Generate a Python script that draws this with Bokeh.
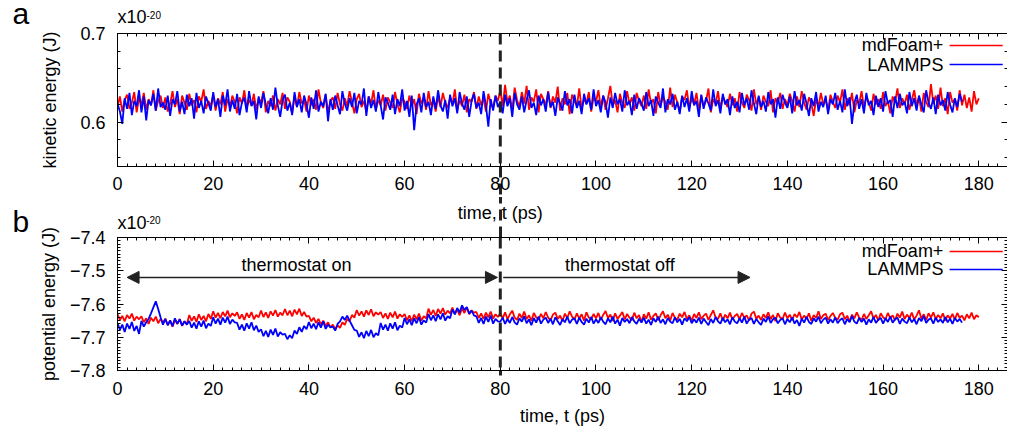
from bokeh.plotting import figure
from bokeh.models import Range1d, FixedTicker, Label, Arrow, NormalHead, LinearAxis, Span
from bokeh.layouts import column
from bokeh.embed import file_html
from bokeh.resources import INLINE

FONT = "Liberation Sans"
dt = 0.5            # sampling interval of the series (ps)
switch_time = 80.0  # thermostat switched off (ps)

# kinetic energy, x1e-20 J
ke_mdfoam = [
 0.618,0.629,0.612,0.625,0.631,0.615,0.622,0.634,0.611,0.627,0.620,0.633,0.614,0.626,0.619,0.636,0.613,0.624,0.630,0.616,
 0.628,0.612,0.621,0.635,0.617,0.626,0.609,0.630,0.622,0.614,0.632,0.619,0.625,0.611,0.629,0.623,0.637,0.615,0.624,0.618,
 0.631,0.613,0.627,0.620,0.634,0.612,0.626,0.617,0.630,0.623,0.610,0.628,0.621,0.636,0.616,0.625,0.619,0.632,0.614,0.627,
 0.622,0.635,0.611,0.624,0.618,0.630,0.613,0.626,0.620,0.633,0.615,0.628,0.623,0.610,0.629,0.617,0.634,0.621,0.625,0.612,
 0.630,0.619,0.626,0.614,0.637,0.622,0.616,0.631,0.611,0.624,0.628,0.615,0.633,0.620,0.613,0.627,0.618,0.635,0.623,0.610,
 0.626,0.632,0.617,0.624,0.612,0.629,0.621,0.636,0.614,0.625,0.619,0.631,0.613,0.628,0.622,0.616,0.634,0.620,0.611,0.627,
 0.623,0.615,0.630,0.618,0.626,0.609,0.632,0.621,0.627,0.614,0.635,0.619,0.624,0.612,0.629,0.617,0.633,0.622,0.616,0.628,
 0.620,0.637,0.613,0.625,0.618,0.631,0.611,0.626,0.623,0.634,0.615,0.629,0.619,0.627,0.612,0.632,0.621,0.616,0.630,0.624,
 0.636,0.618,0.642,0.622,0.630,0.613,0.639,0.625,0.617,0.634,0.621,0.641,0.614,0.628,0.623,0.637,0.611,0.632,0.626,0.619,
 0.635,0.616,0.629,0.622,0.640,0.613,0.627,0.620,0.633,0.609,0.631,0.624,0.618,0.638,0.615,0.626,0.621,0.634,0.612,0.628,
 0.623,0.636,0.617,0.630,0.614,0.627,0.641,0.619,0.625,0.611,0.632,0.622,0.616,0.635,0.620,0.628,0.613,0.633,0.624,0.618,
 0.630,0.615,0.637,0.621,0.626,0.610,0.634,0.619,0.628,0.623,0.614,0.639,0.617,0.631,0.622,0.612,0.629,0.625,0.636,0.616,
 0.627,0.620,0.633,0.613,0.630,0.618,0.624,0.638,0.611,0.626,0.621,0.635,0.615,0.629,0.623,0.617,0.632,0.619,0.627,0.612,
 0.634,0.622,0.616,0.631,0.625,0.613,0.637,0.620,0.628,0.614,0.630,0.623,0.618,0.636,0.611,0.627,0.621,0.633,0.615,0.626,
 0.619,0.632,0.624,0.612,0.629,0.617,0.635,0.622,0.614,0.628,0.621,0.607,0.626,0.618,0.633,0.620,0.625,0.613,0.631,0.623,
 0.616,0.630,0.622,0.637,0.614,0.627,0.619,0.633,0.611,0.625,0.621,0.635,0.617,0.628,0.623,0.613,0.632,0.620,0.626,0.615,
 0.634,0.618,0.624,0.610,0.629,0.622,0.638,0.616,0.627,0.620,0.631,0.614,0.625,0.636,0.619,0.628,0.612,0.633,0.623,0.617,
 0.643,0.621,0.630,0.615,0.639,0.618,0.627,0.609,0.634,0.622,0.626,0.613,0.636,0.619,0.631,0.616,0.628,0.612,0.635,0.620,
 0.627]

ke_lammps = [
 0.621,0.612,0.598,0.627,0.615,0.633,0.608,0.624,0.618,0.636,0.611,0.629,0.602,0.625,0.619,0.632,0.613,0.638,0.617,0.622,
 0.614,0.630,0.607,0.626,0.620,0.635,0.612,0.623,0.609,0.631,0.618,0.627,0.604,0.633,0.616,0.624,0.610,0.629,0.621,0.613,
 0.634,0.617,0.626,0.606,0.630,0.619,0.637,0.612,0.625,0.615,0.632,0.608,0.622,0.628,0.611,0.635,0.618,0.624,0.603,0.629,
 0.616,0.633,0.620,0.610,0.627,0.614,0.639,0.619,0.606,0.625,0.631,0.613,0.622,0.608,0.634,0.617,0.626,0.611,0.630,0.620,
 0.605,0.628,0.615,0.636,0.612,0.623,0.618,0.632,0.601,0.626,0.614,0.630,0.619,0.609,0.635,0.621,0.613,0.627,0.617,0.633,
 0.610,0.624,0.620,0.638,0.607,0.629,0.616,0.625,0.612,0.634,0.619,0.603,0.628,0.622,0.614,0.631,0.609,0.626,0.618,0.637,
 0.613,0.624,0.606,0.630,0.591,0.620,0.627,0.611,0.633,0.617,0.623,0.608,0.629,0.615,0.636,0.619,0.612,0.625,0.604,0.631,
 0.618,0.627,0.610,0.634,0.621,0.614,0.629,0.606,0.624,0.632,0.616,0.622,0.609,0.635,0.619,0.595,0.626,0.613,0.630,0.617,
 0.623,0.610,0.631,0.618,0.627,0.606,0.633,0.620,0.614,0.629,0.611,0.625,0.636,0.616,0.622,0.608,0.630,0.619,0.626,0.612,
 0.634,0.617,0.623,0.607,0.628,0.621,0.613,0.635,0.619,0.626,0.610,0.631,0.616,0.624,0.609,0.632,0.620,0.627,0.614,0.637,
 0.618,0.625,0.611,0.630,0.622,0.605,0.628,0.616,0.633,0.620,0.626,0.612,0.636,0.619,0.624,0.608,0.631,0.615,0.627,0.621,
 0.613,0.634,0.618,0.625,0.607,0.629,0.622,0.616,0.638,0.611,0.626,0.620,0.632,0.614,0.623,0.609,0.630,0.617,0.627,0.612,
 0.635,0.619,0.624,0.606,0.631,0.615,0.628,0.621,0.613,0.637,0.618,0.625,0.610,0.632,0.620,0.626,0.608,0.629,0.616,0.623,
 0.611,0.633,0.619,0.627,0.614,0.636,0.621,0.609,0.630,0.617,0.624,0.612,0.634,0.620,0.626,0.605,0.628,0.615,0.631,0.622,
 0.616,0.629,0.610,0.635,0.619,0.625,0.613,0.632,0.621,0.607,0.627,0.618,0.634,0.612,0.623,0.617,0.630,0.609,0.626,0.620,
 0.633,0.614,0.624,0.611,0.637,0.618,0.628,0.598,0.622,0.631,0.615,0.626,0.610,0.633,0.619,0.624,0.608,0.630,0.617,0.627,
 0.612,0.635,0.621,0.625,0.606,0.629,0.616,0.632,0.619,0.623,0.610,0.634,0.618,0.627,0.613,0.630,0.620,0.611,0.636,0.622,
 0.615,0.628,0.609,0.631,0.619,0.625,0.613,0.634,0.620,0.611,0.627,0.617,0.632,0.623]

# potential energy, x1e-20 J
pe_mdfoam = [
 -7.631,-7.648,-7.636,-7.652,-7.633,-7.644,-7.629,-7.650,-7.638,-7.646,-7.637,-7.655,-7.643,-7.660,-7.641,-7.652,-7.638,-7.658,-7.645,-7.656,
 -7.644,-7.663,-7.650,-7.668,-7.647,-7.660,-7.645,-7.666,-7.652,-7.661,-7.633,-7.651,-7.637,-7.654,-7.631,-7.648,-7.636,-7.652,-7.630,-7.645,
 -7.622,-7.641,-7.627,-7.643,-7.624,-7.637,-7.620,-7.640,-7.628,-7.636,-7.625,-7.645,-7.631,-7.648,-7.627,-7.641,-7.624,-7.646,-7.633,-7.640,
 -7.620,-7.639,-7.625,-7.642,-7.622,-7.635,-7.618,-7.638,-7.626,-7.634,-7.615,-7.634,-7.620,-7.637,-7.617,-7.631,-7.614,-7.636,-7.624,-7.638,
 -7.636,-7.652,-7.641,-7.657,-7.645,-7.661,-7.650,-7.666,-7.655,-7.670,-7.662,-7.676,-7.664,-7.672,-7.655,-7.663,-7.645,-7.652,-7.633,-7.641,
 -7.618,-7.635,-7.622,-7.638,-7.619,-7.633,-7.616,-7.637,-7.625,-7.632,-7.624,-7.642,-7.628,-7.645,-7.626,-7.640,-7.623,-7.644,-7.631,-7.639,
 -7.630,-7.649,-7.634,-7.652,-7.632,-7.646,-7.629,-7.650,-7.637,-7.643,-7.614,-7.633,-7.618,-7.636,-7.615,-7.629,-7.612,-7.632,-7.620,-7.628,
 -7.611,-7.630,-7.616,-7.634,-7.613,-7.627,-7.610,-7.631,-7.619,-7.626,-7.624,-7.642,-7.628,-7.645,-7.626,-7.640,-7.623,-7.644,-7.631,-7.639,
 -7.628,-7.643,-7.625,-7.646,-7.631,-7.620,-7.641,-7.648,-7.629,-7.642,-7.623,-7.645,-7.634,-7.650,-7.627,-7.640,-7.647,-7.630,-7.643,-7.624,
 -7.641,-7.649,-7.632,-7.626,-7.645,-7.635,-7.652,-7.629,-7.642,-7.622,-7.638,-7.647,-7.628,-7.644,-7.631,-7.650,-7.625,-7.641,-7.646,-7.630,
 -7.643,-7.627,-7.648,-7.633,-7.621,-7.642,-7.632,-7.651,-7.628,-7.645,-7.635,-7.624,-7.646,-7.630,-7.641,-7.649,-7.626,-7.643,-7.633,-7.654,
 -7.631,-7.644,-7.625,-7.647,-7.636,-7.628,-7.649,-7.634,-7.622,-7.643,-7.632,-7.650,-7.627,-7.642,-7.647,-7.629,-7.640,-7.624,-7.645,-7.634,
 -7.651,-7.630,-7.642,-7.625,-7.646,-7.635,-7.629,-7.648,-7.633,-7.619,-7.641,-7.645,-7.628,-7.649,-7.632,-7.643,-7.626,-7.647,-7.636,-7.630,
 -7.646,-7.627,-7.642,-7.634,-7.650,-7.629,-7.623,-7.644,-7.635,-7.648,-7.631,-7.642,-7.625,-7.646,-7.633,-7.652,-7.628,-7.641,-7.645,-7.626,
 -7.643,-7.632,-7.649,-7.630,-7.640,-7.624,-7.647,-7.635,-7.644,-7.628,-7.651,-7.633,-7.642,-7.622,-7.645,-7.634,-7.629,-7.648,-7.636,-7.627,
 -7.642,-7.647,-7.631,-7.626,-7.646,-7.635,-7.653,-7.632,-7.643,-7.625,-7.641,-7.648,-7.630,-7.645,-7.634,-7.622,-7.644,-7.633,-7.650,-7.628,
 -7.640,-7.646,-7.627,-7.643,-7.634,-7.649,-7.629,-7.641,-7.623,-7.645,-7.632,-7.642,-7.626,-7.647,-7.635,-7.619,-7.644,-7.631,-7.648,-7.628,
 -7.641,-7.625,-7.646,-7.633,-7.643,-7.628,-7.650,-7.634,-7.644,-7.630,-7.647,-7.627,-7.642,-7.635,-7.649,-7.631,-7.643,-7.626,-7.646,-7.634,
 -7.640]

pe_lammps = [
 -7.657,-7.678,-7.662,-7.684,-7.659,-7.675,-7.654,-7.681,-7.666,-7.690,-7.651,-7.668,-7.655,-7.645,-7.628,-7.610,-7.592,-7.615,-7.640,-7.662,
 -7.645,-7.664,-7.649,-7.667,-7.643,-7.660,-7.646,-7.665,-7.652,-7.662,-7.651,-7.671,-7.656,-7.674,-7.652,-7.668,-7.650,-7.673,-7.659,-7.666,
 -7.640,-7.659,-7.644,-7.662,-7.641,-7.656,-7.638,-7.660,-7.647,-7.655,-7.657,-7.677,-7.662,-7.680,-7.658,-7.674,-7.655,-7.679,-7.665,-7.684,
 -7.676,-7.697,-7.681,-7.699,-7.677,-7.693,-7.674,-7.698,-7.685,-7.692,-7.690,-7.706,-7.694,-7.703,-7.680,-7.690,-7.670,-7.684,-7.666,-7.676,
 -7.654,-7.673,-7.659,-7.676,-7.655,-7.671,-7.652,-7.675,-7.662,-7.670,-7.668,-7.680,-7.660,-7.652,-7.638,-7.648,-7.635,-7.650,-7.664,-7.678,
 -7.680,-7.699,-7.685,-7.703,-7.681,-7.697,-7.678,-7.700,-7.688,-7.694,-7.657,-7.677,-7.662,-7.680,-7.658,-7.674,-7.655,-7.679,-7.665,-7.671,
 -7.642,-7.661,-7.646,-7.664,-7.643,-7.658,-7.640,-7.662,-7.649,-7.656,-7.630,-7.649,-7.634,-7.652,-7.631,-7.646,-7.628,-7.650,-7.637,-7.643,
 -7.616,-7.631,-7.612,-7.626,-7.604,-7.618,-7.609,-7.629,-7.620,-7.634,-7.637,-7.657,-7.642,-7.660,-7.638,-7.654,-7.635,-7.659,-7.645,-7.652,
 -7.653,-7.641,-7.660,-7.645,-7.657,-7.639,-7.655,-7.662,-7.643,-7.653,-7.637,-7.658,-7.646,-7.664,-7.642,-7.656,-7.638,-7.659,-7.647,-7.641,
 -7.657,-7.644,-7.661,-7.640,-7.652,-7.663,-7.645,-7.655,-7.638,-7.658,-7.647,-7.643,-7.660,-7.641,-7.654,-7.662,-7.644,-7.656,-7.639,-7.659,
 -7.646,-7.657,-7.640,-7.653,-7.661,-7.643,-7.655,-7.638,-7.659,-7.647,-7.665,-7.642,-7.654,-7.645,-7.658,-7.639,-7.652,-7.660,-7.644,-7.656,
 -7.641,-7.659,-7.647,-7.663,-7.643,-7.654,-7.638,-7.657,-7.646,-7.661,-7.642,-7.653,-7.658,-7.640,-7.655,-7.645,-7.662,-7.643,-7.652,-7.639,
 -7.658,-7.646,-7.656,-7.641,-7.660,-7.644,-7.654,-7.664,-7.645,-7.657,-7.639,-7.652,-7.659,-7.642,-7.655,-7.646,-7.661,-7.640,-7.653,-7.658,
 -7.643,-7.656,-7.638,-7.659,-7.647,-7.642,-7.660,-7.645,-7.655,-7.663,-7.644,-7.654,-7.637,-7.657,-7.646,-7.641,-7.658,-7.648,-7.643,-7.661,
 -7.645,-7.655,-7.640,-7.659,-7.648,-7.666,-7.644,-7.656,-7.639,-7.654,-7.660,-7.643,-7.653,-7.638,-7.658,-7.647,-7.641,-7.659,-7.646,-7.656,
 -7.640,-7.658,-7.648,-7.643,-7.661,-7.645,-7.655,-7.636,-7.653,-7.659,-7.642,-7.654,-7.644,-7.662,-7.646,-7.656,-7.639,-7.657,-7.647,-7.642,
 -7.659,-7.643,-7.654,-7.638,-7.656,-7.646,-7.641,-7.660,-7.644,-7.653,-7.658,-7.640,-7.655,-7.645,-7.661,-7.642,-7.652,-7.636,-7.657,-7.647,
 -7.643,-7.659,-7.641,-7.654,-7.646,-7.657,-7.639,-7.655,-7.644,-7.660,-7.642,-7.653,-7.645,-7.656]

t_ke_mdfoam = [i * dt for i in range(len(ke_mdfoam))]
t_ke_lammps = [i * dt for i in range(len(ke_lammps))]
t_pe_mdfoam = [i * dt for i in range(len(pe_mdfoam))]
t_pe_lammps = [i * dt for i in range(len(pe_lammps))]

x_major = [0, 20, 40, 60, 80, 100, 120, 140, 160, 180]
x_minor = list(range(0, 188, 2))
ke_major = [0.6, 0.7]
ke_minor = [0.56, 0.58, 0.6, 0.62, 0.64, 0.66, 0.68, 0.7]
pe_major = [-7.8, -7.7, -7.6, -7.5, -7.4]
pe_minor = [round(-7.8 + 0.01 * i, 2) for i in range(41)]

series_names = ["mdFoam+", "LAMMPS"]
series_colors = ["#ff0000", "#0000ff"]
INK = "#222222"
DASH = "11 6"
X_LABEL = "time, t (ps)"


def style_axis(ax, ticker, labels=True):
    ax.ticker = ticker
    ax.axis_line_color = "black"
    ax.axis_line_width = 1
    ax.major_tick_in = 6
    ax.major_tick_out = 0
    ax.minor_tick_in = 3
    ax.minor_tick_out = 0
    ax.major_tick_line_color = "black"
    ax.minor_tick_line_color = "black"
    ax.major_label_text_font = FONT
    ax.major_label_text_font_size = "18px"
    ax.major_label_text_color = "black" if labels else None
    ax.axis_label_text_font = FONT
    ax.axis_label_text_font_size = "18px"
    ax.axis_label_text_font_style = "normal"
    ax.axis_label_text_color = "black"
    if not labels:
        ax.major_label_standoff = 0


def dash_axis(tick_len):
    # unlabeled axis whose single tick, at the switch time, reaches out of
    # the frame and carries the dashed marker line across the gap
    ax = LinearAxis(ticker=FixedTicker(ticks=[switch_time], minor_ticks=[]))
    ax.axis_line_color = None
    ax.minor_tick_line_color = None
    ax.major_label_text_color = None
    ax.major_label_standoff = 0
    ax.major_tick_out = 0
    ax.major_tick_in = -tick_len
    ax.major_tick_line_color = INK
    ax.major_tick_line_width = 3
    ax.major_tick_line_dash = DASH
    return ax


def make_panel(y0, y1, y_major, y_minor, ylabel, xlabel, b_top, b_bottom,
               xtick_standoff, ylab_standoff, gap_above, gap_below):
    p = figure(frame_width=890, frame_height=133,
               x_range=Range1d(0, 186), y_range=Range1d(y0, y1),
               output_backend="svg", toolbar_location=None,
               x_axis_location=None, y_axis_location=None,
               min_border_left=117, min_border_right=0,
               min_border_top=b_top, min_border_bottom=b_bottom)
    p.grid.visible = False
    p.outline_line_color = None
    p.background_fill_color = "white"
    p.border_fill_color = "white"
    p.add_layout(dash_axis(gap_below), "below")
    xa = LinearAxis(axis_label=xlabel)
    style_axis(xa, FixedTicker(ticks=x_major, minor_ticks=x_minor))
    xa.major_label_standoff = xtick_standoff
    xa.axis_label_standoff = 8
    p.add_layout(xa, "below")
    ya = LinearAxis(axis_label=ylabel)
    style_axis(ya, FixedTicker(ticks=y_major, minor_ticks=y_minor))
    ya.major_label_standoff = 12
    ya.axis_label_standoff = ylab_standoff
    p.add_layout(ya, "left")
    if gap_above:
        p.add_layout(dash_axis(gap_above), "above")
    ax_r = LinearAxis()
    style_axis(ax_r, FixedTicker(ticks=y_major, minor_ticks=y_minor), labels=False)
    p.add_layout(ax_r, "right")
    ax_t = LinearAxis()
    style_axis(ax_t, FixedTicker(ticks=x_major, minor_ticks=x_minor), labels=False)
    p.add_layout(ax_t, "above")
    p.add_layout(Span(location=switch_time, dimension="height", line_color=INK,
                      line_width=3, line_dash=DASH))
    return p


def add_key(p, y_rows, x_text, x0, x1):
    for name, col, yy in zip(series_names, series_colors, y_rows):
        p.add_layout(Label(x=x_text, y=yy, text=name, text_align="right", text_baseline="middle",
                           text_font=FONT, text_font_size="18px", text_color="black"))
        p.add_layout(Arrow(x_start=x0, y_start=yy, x_end=x1, y_end=yy, end=None,
                           line_color=col, line_width=1.5))


def side_label(p, side, x, y, text, size, **kw):
    p.add_layout(Label(x=x, y=y, text=text, text_font=FONT, text_font_size=size,
                       text_color="black", **kw), side)


# ---- panel a: kinetic energy (its x-axis title is placed in panel b's top margin)
pa = make_panel(0.55, 0.7, ke_major, ke_minor, "kinetic energy (J)", None, 33, 31, 10, 17, 0, 40)
pa.line(t_ke_mdfoam, ke_mdfoam, line_color=series_colors[0], line_width=1.8)
pa.line(t_ke_lammps, ke_lammps, line_color=series_colors[1], line_width=1.8)
add_key(pa, [0.6865, 0.665], 172.6, 173.9, 185.0)
side_label(pa, "left", -21.94, 0.7034, "a", "30px")
side_label(pa, "above", 0.0, 0.70677, "x10", "18px")
side_label(pa, "above", 6.06, 0.71635, "-20", "10px")

# ---- panel b: potential energy
pb = make_panel(-7.8, -7.4, pe_major, pe_minor, "potential energy (J)", X_LABEL, 38, 56, 11, 8, 44, 5)
pb.line(t_pe_mdfoam, pe_mdfoam, line_color=series_colors[0], line_width=1.8)
pb.line(t_pe_lammps, pe_lammps, line_color=series_colors[1], line_width=1.8)
add_key(pb, [-7.442, -7.496], 172.6, 173.9, 185.0)
side_label(pb, "above", 80.0, -7.3278, X_LABEL, "18px", text_align="center", text_baseline="middle")
side_label(pb, "above", 0.0, -7.385, "x10", "18px")
side_label(pb, "left", 6.0, -7.3597, "-20", "10px")
side_label(pb, "left", -21.94, -7.403, "b", "30px")
pb.add_layout(Arrow(x_start=2.0, y_start=-7.52, x_end=79.4, y_end=-7.52,
                    start=NormalHead(size=12, fill_color=INK, line_color=INK),
                    end=NormalHead(size=12, fill_color=INK, line_color=INK),
                    line_color=INK, line_width=1.5))
pb.add_layout(Arrow(x_start=80.6, y_start=-7.52, x_end=132.2, y_end=-7.52,
                    end=NormalHead(size=12, fill_color=INK, line_color=INK),
                    line_color=INK, line_width=1.5))
pb.add_layout(Label(x=37.4, y=-7.484, text="thermostat on", text_align="center", text_baseline="middle",
                    text_font=FONT, text_font_size="18px", text_color="black"))
pb.add_layout(Label(x=105.0, y=-7.484, text="thermostat off", text_align="center", text_baseline="middle",
                    text_font=FONT, text_font_size="18px", text_color="black"))

layout = column(pa, pb)
open("out.html", "w").write(file_html(layout, INLINE))
